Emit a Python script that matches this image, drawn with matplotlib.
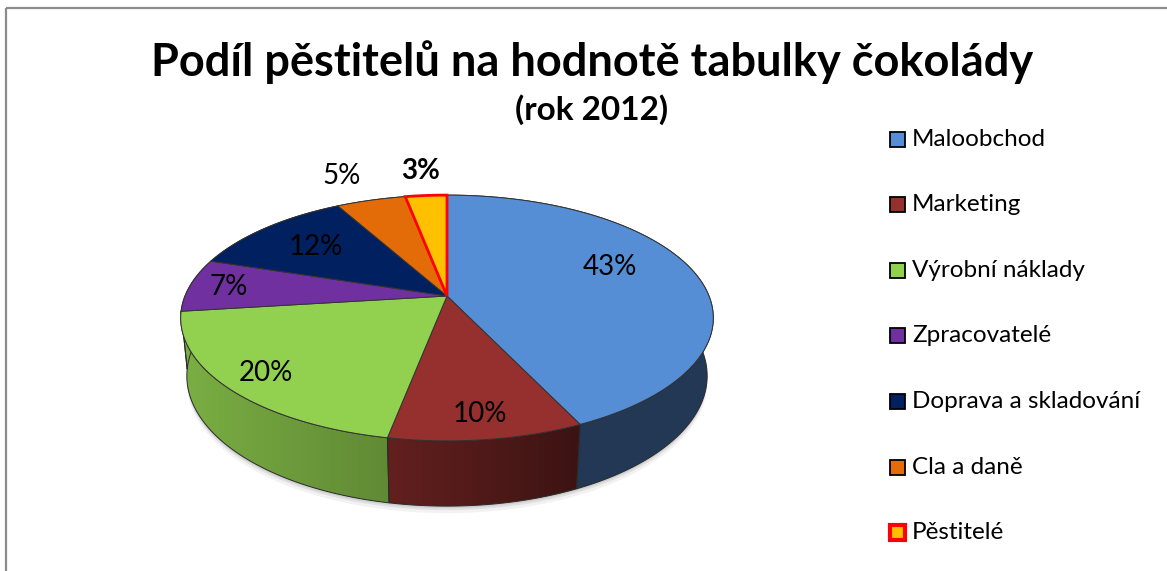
import numpy as np
import matplotlib.pyplot as plt
from matplotlib.patches import Polygon, Rectangle
from matplotlib.colors import to_rgb

# data
categories = ['Maloobchod', 'Marketing', 'Výrobní náklady', 'Zpracovatelé',
              'Doprava a skladování', 'Cla a daně', 'Pěstitelé']
shares = [43, 10, 20, 7, 12, 5, 3]
colors = ['#558ed5', '#95302e', '#92d050', '#7030a0', '#002060', '#e36c09', '#ffc000']
title = 'Podíl pěstitelů na hodnotě tabulky čokolády'
subtitle = '(rok 2012)'

plt.rcParams['font.family'] = ['Lato', 'DejaVu Sans']

W, H = 1167, 571
fig = plt.figure(figsize=(W / 100, H / 100), dpi=100)
ax = fig.add_axes([0, 0, 1, 1])
ax.set_xlim(0, W)
ax.set_ylim(H, 0)
ax.axis('off')

# 3D pie geometry (perspective view of a flat cylinder)
CX, CY = 447, 296      # apex of the top face, pixels
R = 262                # radius scale, pixels
ELEV = np.radians(27)  # viewing elevation
F = 4.98               # camera distance in radii
T = 0.25               # thickness in radii
s_e, c_e = np.sin(ELEV), np.cos(ELEV)


def proj(X, Z, Y):
    v = Z * s_e + Y * c_e
    w = Z * c_e - Y * s_e
    k = F / (F + w)
    return CX + R * X * k, CY - R * v * k


def rim(theta, Y=0.0, r=1.0):
    return proj(r * np.sin(theta), r * np.cos(theta), Y)


frac = np.array(shares) / np.sum(shares)
edges_ang = 2 * np.pi * np.concatenate([[0], np.cumsum(frac)])

# soft shadow under the pie
full = np.linspace(0, 2 * np.pi, 360)
for off, a in [(7, 0.05), (4, 0.07), (2, 0.08)]:
    sx, sy = rim(full, -T)
    ax.add_patch(Polygon(np.column_stack([sx, sy + off]), closed=True,
                         facecolor='black', edgecolor='none', alpha=a, zorder=1))

# side wall: gradient image clipped to each slice's wall, light falls off to the right
xs = np.linspace(150, 750, 600)
shade = np.interp(xs, [180, 390, 450, 580, 715], [0.84, 0.66, 0.58, 0.40, 0.40])
order = np.argsort([-np.cos((edges_ang[i] + edges_ang[i + 1]) / 2) for i in range(len(shares))])
for i in order:
    th = np.linspace(edges_ang[i], edges_ang[i + 1], 160)
    tx, ty = rim(th)
    bx, by = rim(th, -T)
    pts = np.column_stack([np.concatenate([tx, bx[::-1]]), np.concatenate([ty, by[::-1]])])
    wall = Polygon(pts, closed=True, fill=False, edgecolor='#2a2a2a', lw=0.7, zorder=3)
    ax.add_patch(wall)
    grad = np.array(to_rgb(colors[i]))[None, None, :] * shade[None, :, None]
    im = ax.imshow(np.repeat(grad, 2, axis=0), extent=(150, 750, 560, 150),
                   aspect='auto', interpolation='bilinear', zorder=2)
    im.set_clip_path(wall)
ax.set_xlim(0, W)
ax.set_ylim(H, 0)

# top face
apex = proj(0, 0, 0)
for i in range(len(shares)):
    th = np.linspace(edges_ang[i], edges_ang[i + 1], 200)
    tx, ty = rim(th)
    pts = np.column_stack([np.concatenate([[apex[0]], tx]), np.concatenate([[apex[1]], ty])])
    last = i == len(shares) - 1
    ax.add_patch(Polygon(pts, closed=True, facecolor=colors[i],
                         edgecolor='#ff0000' if last else '#333333',
                         lw=2.0 if last else 0.7, zorder=5 if last else 4))

# data labels (radius in pie radii, angle nudge in degrees)
label_r = [0.7, 0.85, 0.85, 0.85, 0.7, 1.32, 1.3]
label_nudge = [-9, 0, 0, 0, 0, -2, 0]
for i, v in enumerate(shares):
    mid = (edges_ang[i] + edges_ang[i + 1]) / 2 + np.radians(label_nudge[i])
    lx, ly = rim(mid, 0.0, label_r[i])
    ax.text(lx, ly, f'{v}%', ha='center', va='center', fontsize=20, color='black',
            fontweight='bold' if i == len(shares) - 1 else 'normal', zorder=6)

# titles
ax.text(592, 62, title, ha='center', va='center', fontsize=32.5, fontweight='bold')
ax.text(592, 110, subtitle, ha='center', va='center', fontsize=24, fontweight='bold')

# legend
for i, name in enumerate(categories):
    y = 139 + i * 65.6
    last = i == len(categories) - 1
    ax.add_patch(Rectangle((890, y - 7.5), 15, 15, facecolor=colors[i],
                           edgecolor='#ff0000' if last else 'black',
                           lw=3 if last else 1.3, zorder=5))
    ax.text(912, y, name, ha='left', va='center', fontsize=17.5)

# chart border
ax.add_patch(Rectangle((6, 8), W + 20, H + 20, fill=False, edgecolor='#8c8c8c', lw=1.6))

fig.savefig('out.png', dpi=100)
